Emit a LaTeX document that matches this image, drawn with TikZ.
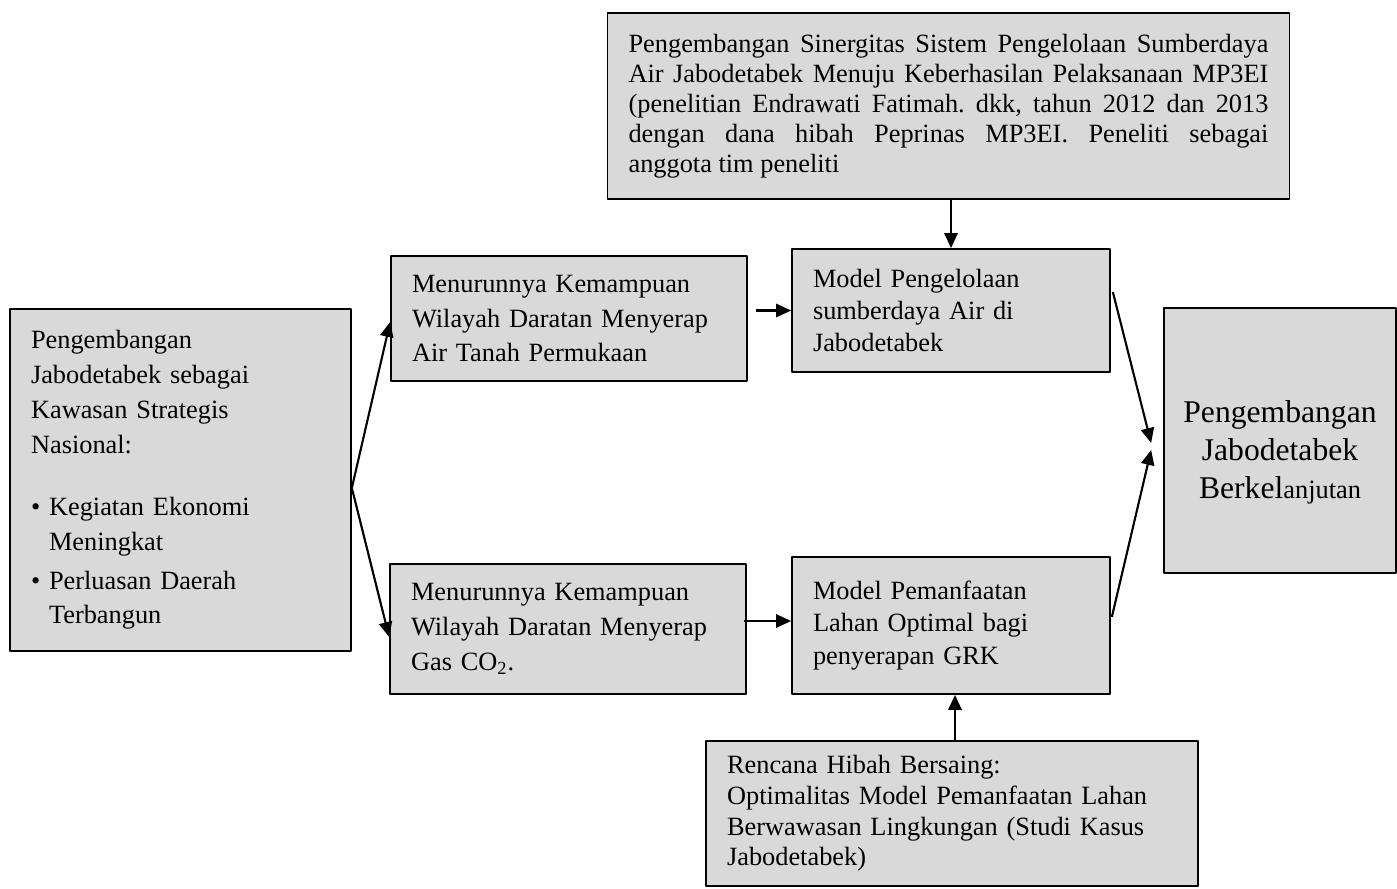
\documentclass[tikz,border=0pt]{standalone}
\usepackage{fontspec}
\setmainfont{Liberation Serif}
\usetikzlibrary{arrows.meta,calc}
\definecolor{abu}{RGB}{217,217,217}
\frenchspacing

\begin{document}
\begin{tikzpicture}[x=0.02cm,y=-0.02cm,line join=round,>={Triangle[length=8.5pt,width=7.5pt]},
		kotak/.style={draw,line width=1pt,fill=abu,inner xsep=0.42cm,inner ysep=0pt,align=left,font=\fontsize{15}{19.8}\selectfont},
		panah/.style={->,line width=1.2pt}]
	\useasboundingbox (0,0) rectangle (1397,889);
	
	\node[kotak,text width=5.98cm,minimum height=6.84cm] (A) at (180.5,480) {Pengembangan\\Jabodetabek sebagai\\Kawasan Strategis\\Nasional:\\[16pt]\textbullet\ Kegiatan Ekonomi\\\hphantom{\textbullet\ }Meningkat\\[2pt]\textbullet\ Perluasan Daerah\\\hphantom{\textbullet\ }Terbangun};
	
	\node[kotak,text width=6.28cm,minimum height=2.5cm] (B) at (569,318.5) {Menurunnya Kemampuan\\Wilayah Daratan Menyerap\\Air Tanah Permukaan};
	\node[kotak,text width=6.28cm,minimum height=2.6cm] (C) at (568,629) {Menurunnya Kemampuan\\Wilayah Daratan Menyerap\\Gas CO\textsubscript{2}.};
	
	\node[kotak,text width=5.52cm,minimum height=2.46cm,font=\fontsize{15}{18.4}\selectfont] (D) at (951,310.5) {Model Pengelolaan\\sumberdaya Air di\\Jabodetabek};
	\node[kotak,text width=5.52cm,minimum height=2.74cm,font=\fontsize{15}{18.4}\selectfont] (E) at (951,625.5) {Model Pemanfaatan\\Lahan Optimal bagi\\penyerapan GRK};
	
	\node[kotak,align=justify,text width=12.8cm,minimum height=3.72cm,font=\fontsize{15}{17}\selectfont] (F) at (948.5,106) {\tolerance=9999 Pengembangan Sinergitas Sistem Pengelolaan Sumberdaya\linebreak Air Jabodetabek Menuju Keberhasilan Pelaksanaan MP3EI\linebreak (penelitian Endrawati Fatimah. dkk, tahun 2012 dan 2013\linebreak dengan dana hibah Peprinas MP3EI. Peneliti sebagai\linebreak anggota tim peneliti};
	\node[kotak,text width=9cm,minimum height=2.9cm,font=\fontsize{15}{17.4}\selectfont] (G) at (952,813.5) {Rencana Hibah Bersaing:\\Optimalitas Model Pemanfaatan Lahan\\Berwawasan Lingkungan (Studi Kasus\\Jabodetabek)};
	
	\node[kotak,align=center,inner xsep=0pt,minimum width=4.64cm,minimum height=5.3cm,font=\fontsize{18}{21.8}\selectfont] (H) at (1280,440.5) {\rule{0pt}{26pt}Pengembangan\\Jabodetabek\\Berkel{\fontsize{15}{21.8}\selectfont anjutan}};
	
	\coordinate (J) at ($(A.east)+(0,8)$);
	\draw[panah] (J) -- ($(B.west)+(0,3.5)$);
	\draw[panah] (J) -- ($(C.west)+(0,8)$);
	
	\draw[panah] ($(B.east |- D.west)+(8,0)$) -- (D.west);
	\draw[panah] ($(C.east)+(-3,-8)$) -- ($(E.west)+(0,-4.5)$);
	
	\draw[panah] (F.south -| D.north) -- (D.north);
	\draw[panah] ($(G.north)+(3,0)$) coordinate (g1) -- (g1 |- E.south);
	
	\draw[panah] ($(D.east)+(2,-18.5)$) -- ($(H.west)+(-12,2.5)$);
	\draw[panah] ($(E.east)+(1,-8.5)$) -- ($(H.west)+(-12,9.5)$);
\end{tikzpicture}
\end{document}
